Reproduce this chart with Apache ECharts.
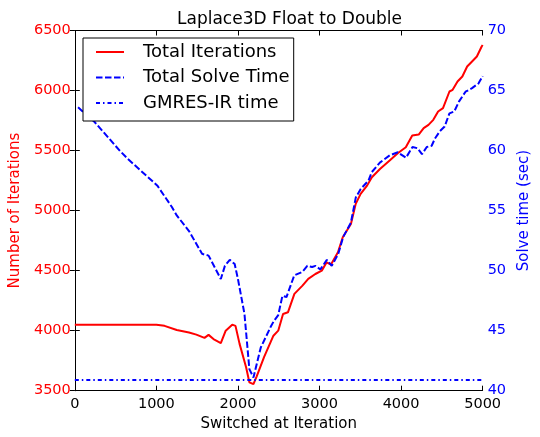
<!DOCTYPE html>
<html>
<head>
<meta charset="utf-8">
<script src="https://cdn.jsdelivr.net/npm/echarts@6/dist/echarts.min.js"></script>
<style>html,body{margin:0;padding:0;background:#fff;}#c{width:540px;height:437px;}</style>
</head>
<body>
<div id="c"></div>
<script>
// Data
const xTicks = [0, 1000, 2000, 3000, 4000, 5000];
const iterTicks = [3500, 4000, 4500, 5000, 5500, 6000, 6500];
const timeTicks = [40, 45, 50, 55, 60, 65, 70];

const totalIterations = [
  [0,4050],[1000,4050],[1100,4040],[1250,4005],[1400,3985],[1490,3967],[1590,3940],[1640,3965],
  [1700,3930],[1790,3897],[1850,4000],[1930,4050],[1970,4040],[2020,3890],[2100,3695],[2140,3570],
  [2190,3555],[2230,3620],[2320,3780],[2435,3958],[2494,4000],[2553,4139],[2613,4153],[2692,4306],
  [2791,4375],[2862,4431],[2949,4472],[3028,4500],[3088,4569],[3139,4550],[3226,4653],[3285,4778],
  [3385,4889],[3444,5056],[3504,5139],[3583,5208],[3642,5278],[3741,5347],[3860,5417],[3959,5478],
  [4058,5528],[4137,5625],[4216,5633],[4277,5687],[4336,5714],[4395,5756],[4454,5825],[4514,5853],
  [4593,5992],[4632,6006],[4692,6075],[4751,6117],[4810,6200],[4870,6242],[4929,6283],[4988,6367],[5000,6380]
];

const totalSolveTime = [
  [40,63.6],[240,62.4],[550,60.0],[650,59.3],[1010,57.1],[1190,55.3],[1250,54.6],[1400,53.3],
  [1560,51.4],[1640,51.25],[1790,49.3],[1840,50.4],[1900,50.9],[1960,50.55],[2000,49.3],[2080,46.4],
  [2140,41.8],[2190,41.1],[2280,43.6],[2400,45.3],[2440,45.8],[2494,46.3],[2545,47.9],[2595,47.8],
  [2690,49.6],[2790,49.9],[2850,50.4],[2910,50.3],[2950,50.4],[3010,50.1],[3090,50.9],[3150,50.4],
  [3230,51.4],[3290,52.8],[3385,54.0],[3445,56.1],[3505,56.8],[3600,57.5],[3640,58.2],[3740,59.0],
  [3860,59.6],[3960,59.86],[4060,59.4],[4140,60.3],[4200,60.2],[4256,59.7],[4315,60.3],[4375,60.4],
  [4415,61.0],[4474,61.6],[4534,62.0],[4593,63.1],[4652,63.25],[4711,64.1],[4790,64.9],[4870,65.2],
  [4950,65.6],[5000,66.2]
];

const gmresTime = [[0,40.9],[5000,40.9]];

const FONT = 'DejaVu Sans';
const plain = v => String(v);
const chart = echarts.init(document.getElementById('c'), null, {renderer:'canvas'});
chart.setOption({
  animation: false,
  backgroundColor: '#fff',
  textStyle: {fontFamily: FONT},
  title: {
    text: 'Laplace3D Float to Double',
    left: 172, top: 6,
    textStyle: {fontFamily: FONT, fontSize: 17, fontWeight: 'normal', color: '#000'}
  },
  grid: {left: 74.5, right: 44, top: 30.5, bottom: 46.3, containLabel: false},
  legend: {
    orient: 'vertical', left: 83, top: 38,
    padding: [5, 4, 9, 12],
    itemWidth: 28, itemHeight: 18, itemGap: 7.5,
    borderColor: '#000', borderWidth: 1, backgroundColor: '#fff',
    itemStyle: {opacity: 0},
    textStyle: {fontFamily: FONT, fontSize: 18, color: '#000', padding: [0, 0, 0, 14]},
    data: ['Total Iterations', 'Total Solve Time', 'GMRES-IR time']
  },
  xAxis: [{
    type: 'value', min: xTicks[0], max: xTicks[xTicks.length-1], interval: 1000,
    name: 'Switched at Iteration', nameLocation: 'middle', nameGap: 25,
    nameTextStyle: {fontFamily: FONT, fontSize: 15, color: '#000'},
    axisLine: {show: true, lineStyle: {color: '#000', width: 1}},
    axisTick: {show: true, inside: true, length: 5, lineStyle: {color: '#000'}},
    axisLabel: {fontFamily: FONT, fontSize: 14.5, color: '#000', margin: 6, formatter: plain},
    splitLine: {show: false}
  }, {
    type: 'value', position: 'top', min: xTicks[0], max: xTicks[xTicks.length-1], interval: 1000,
    axisLine: {show: true, lineStyle: {color: '#000', width: 1}},
    axisTick: {show: true, inside: true, length: 5, lineStyle: {color: '#000'}},
    axisLabel: {show: false}, splitLine: {show: false}
  }],
  yAxis: [{
    type: 'value', position: 'left', min: iterTicks[0], max: iterTicks[iterTicks.length-1], interval: 500,
    name: 'Number of Iterations', nameLocation: 'middle', nameGap: 47,
    nameTextStyle: {fontFamily: FONT, fontSize: 15, color: '#ff0000'},
    axisLine: {show: true, lineStyle: {color: '#000', width: 1}},
    axisTick: {show: true, inside: true, length: 5, lineStyle: {color: '#000'}},
    axisLabel: {fontFamily: FONT, fontSize: 14.5, color: '#ff0000', margin: 4, formatter: plain},
    splitLine: {show: false}
  }, {
    type: 'value', position: 'right', min: timeTicks[0], max: timeTicks[timeTicks.length-1], interval: 5,
    name: 'Solve time (sec)', nameLocation: 'middle', nameGap: 31,
    nameTextStyle: {fontFamily: FONT, fontSize: 15, color: '#0000ff'},
    axisLine: {show: true, lineStyle: {color: '#000', width: 1}},
    axisTick: {show: true, inside: true, length: 5, lineStyle: {color: '#000'}},
    axisLabel: {fontFamily: FONT, fontSize: 14.5, color: '#0000ff', margin: 5, formatter: plain},
    splitLine: {show: false}
  }],
  series: [{
    name: 'Total Iterations', type: 'line', xAxisIndex: 0, yAxisIndex: 0,
    data: totalIterations, symbol: 'none', smooth: false,
    lineStyle: {color: '#ff0000', width: 2}, itemStyle: {color: '#ff0000'}
  }, {
    name: 'Total Solve Time', type: 'line', xAxisIndex: 0, yAxisIndex: 1,
    data: totalSolveTime, symbol: 'none',
    lineStyle: {color: '#0000ff', width: 2, type: [6.5, 2.5]}, itemStyle: {color: '#0000ff'}
  }, {
    name: 'GMRES-IR time', type: 'line', xAxisIndex: 0, yAxisIndex: 1,
    data: gmresTime, symbol: 'none',
    lineStyle: {color: '#0000ff', width: 2, type: [4, 3, 1.5, 3]}, itemStyle: {color: '#0000ff'}
  }]
});
</script>
</body>
</html>
